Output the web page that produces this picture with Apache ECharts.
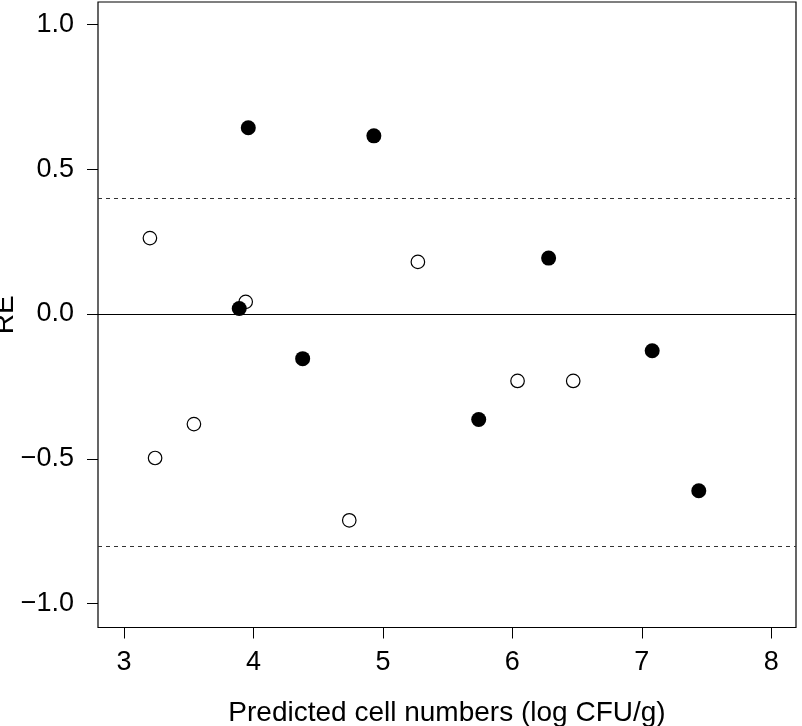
<!DOCTYPE html>
<html>
<head>
<meta charset="utf-8">
<script src="https://cdn.jsdelivr.net/npm/echarts@6/dist/echarts.min.js"></script>
<style>
html,body{margin:0;padding:0;background:#fff;}
#chart{width:802px;height:726px;}
</style>
</head>
<body>
<div id="chart"></div>
<script>
// Filled points: [predicted log CFU/g, RE]
const filledX = [3.96, 4.93, 3.89, 4.38, 6.28, 7.08, 5.74, 7.44];
const filledY = [0.643, 0.615, 0.019, -0.154, 0.193, -0.127, -0.364, -0.610];
// Open points
const openX = [3.20, 5.27, 3.94, 3.54, 3.24, 4.74, 6.04, 6.47];
const openY = [0.262, 0.180, 0.042, -0.380, -0.497, -0.712, -0.231, -0.231];
// Reference lines
const solidLines = [0];
const dashedLines = [0.4, -0.8];
// Tick labels
const xTicks = [3, 4, 5, 6, 7, 8];
const yTicks = [-1.0, -0.5, 0.0, 0.5, 1.0];
const xTitle = 'Predicted cell numbers (log CFU/g)';
const yTitle = 'RE';

const font = '"Liberation Sans", Arial, Helvetica, sans-serif';
const pair = (xs, ys) => xs.map((x, i) => [x, ys[i]]);

const chart = echarts.init(document.getElementById('chart'), null, {renderer: 'canvas'});
chart.setOption({
  animation: false,
  backgroundColor: '#fff',
  grid: {left: 98, right: 6, top: 2, bottom: 98.5, show: true, borderColor: '#000', borderWidth: 1.2,
    backgroundColor: 'transparent', containLabel: false, outerBoundsMode: 'none'},
  xAxis: {
    type: 'value', min: 2.799, max: 8.191,
    name: xTitle, nameLocation: 'middle', nameGap: 72,
    nameTextStyle: {fontFamily: font, fontSize: 28, color: '#000'},
    axisLine: {show: false, onZero: false},
    axisTick: {show: true, inside: false, length: 11, customValues: xTicks, lineStyle: {color: '#000', width: 1}},
    axisLabel: {customValues: xTicks, margin: 22, fontFamily: font, fontSize: 27, color: '#000', formatter: v => String(v)},
    splitLine: {show: false}
  },
  yAxis: {
    type: 'value', min: -1.082, max: 1.077,
    name: yTitle, nameLocation: 'middle', nameGap: 79, nameRotate: 90, nameMoveOverlap: false,
    nameTextStyle: {fontFamily: font, fontSize: 28, color: '#000'},
    axisLine: {show: false, onZero: false},
    axisTick: {show: true, inside: false, length: 11, customValues: yTicks, lineStyle: {color: '#000', width: 1}},
    axisLabel: {customValues: yTicks, margin: 24, fontFamily: font, fontSize: 27, color: '#000',
      formatter: v => (v < 0 ? '\u2212' : '') + Math.abs(v).toFixed(1)},
    splitLine: {show: false}
  },
  series: [
    {
      type: 'scatter', name: 'open', data: pair(openX, openY), symbol: 'circle', symbolSize: 13.5,
      itemStyle: {color: '#fff', borderColor: '#000', borderWidth: 1.2, opacity: 1},
      z: 3,
      markLine: {
        silent: true, symbol: 'none', label: {show: false},
        data: [
          ...solidLines.map(v => ({yAxis: v, lineStyle: {type: 'solid', color: '#000', width: 1.2}})),
          ...dashedLines.map(v => ({yAxis: v, lineStyle: {type: [4, 4], color: '#333', width: 1}}))
        ]
      }
    },
    {
      type: 'scatter', name: 'filled', data: pair(filledX, filledY), symbol: 'circle', symbolSize: 15,
      itemStyle: {color: '#000', borderColor: '#000', borderWidth: 0, opacity: 1},
      z: 4
    }
  ]
});
</script>
</body>
</html>
